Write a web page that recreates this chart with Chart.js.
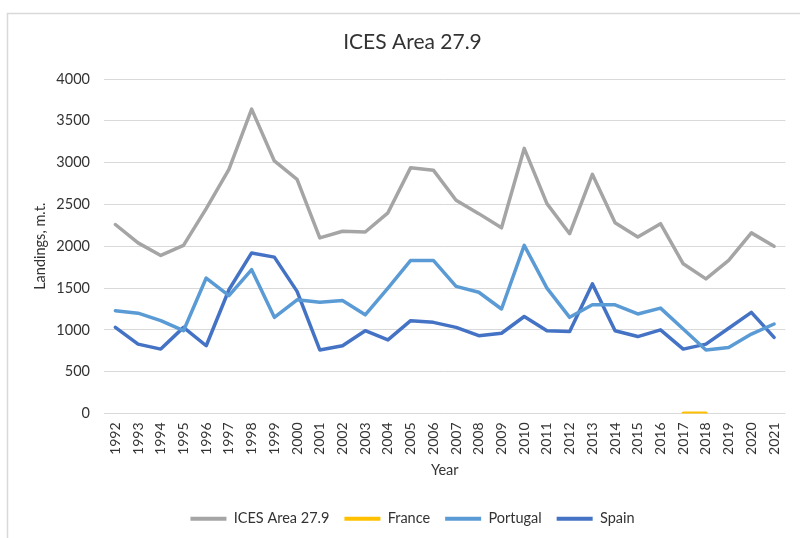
<!DOCTYPE html>
<html lang="en">
<head>
  <meta charset="UTF-8">
  <title>ICES Area 27.9</title>
  <script src="https://cdn.jsdelivr.net/npm/chart.js"></script>
  <style>
    html,body{width:800px;height:538px;margin:0;padding:0;overflow:hidden;background:#fff}
    #wrap{width:800px;height:538px;position:relative}
  </style>
</head>
<body>
  <div id="wrap"><canvas id="chart" width="800" height="538"></canvas></div>
<script>
// ---- data (landings, m.t.) ----
const years = ['1992','1993','1994','1995','1996','1997','1998','1999','2000','2001','2002','2003','2004','2005','2006','2007','2008','2009','2010','2011','2012','2013','2014','2015','2016','2017','2018','2019','2020','2021'];
const icesArea = [2260,2040,1890,2010,2450,2920,3640,3020,2800,2100,2180,2170,2400,2940,2910,2550,2390,2220,3170,2510,2150,2860,2280,2110,2270,1790,1610,1830,2160,2000];
const france = [null,null,null,null,null,null,null,null,null,null,null,null,null,null,null,null,null,null,null,null,null,null,null,null,null,3,3,null,null,null];
const portugal = [1230,1200,1110,990,1620,1410,1720,1150,1360,1330,1350,1180,1500,1830,1830,1520,1450,1250,2010,1500,1150,1300,1300,1190,1260,1010,760,790,950,1070];
const spain = [1030,830,770,1030,810,1480,1920,1870,1460,760,810,990,880,1110,1090,1030,930,960,1160,990,980,1550,990,920,1000,770,830,1020,1210,910];

const seriesNames = ['ICES Area 27.9','France','Portugal','Spain'];
const seriesColors = ['#a5a5a5','#ffc000','#5b9bd5','#4472c4'];
const seriesData = [icesArea, france, portugal, spain];

const FONT = 'Lato, "Open Sans", "DejaVu Sans", sans-serif';
const TXT = '#333333';

// light frame round the chart, like the Excel chart border
const framePlugin = {
  id: 'frame',
  beforeDraw(chart){
    const c = chart.ctx;
    c.save();
    c.fillStyle = '#fff';
    c.fillRect(0,0,chart.width,chart.height);
    c.strokeStyle = '#d9d9d9';
    c.lineWidth = 1.5;
    c.strokeRect(7.5,13.5,chart.width,chart.height);
    c.restore();
  }
};

new Chart(document.getElementById('chart'), {
  type: 'line',
  data: {
    labels: years,
    datasets: seriesData.map((d,i)=>({
      label: seriesNames[i],
      data: d,
      borderColor: seriesColors[i],
      backgroundColor: seriesColors[i],
      borderWidth: 3.5,
      borderJoinStyle: 'round',
      borderCapStyle: 'round',
      pointRadius: 0,
      tension: 0,
      fill: false
    }))
  },
  options: {
    responsive: false,
    animation: false,
    layout: { padding: { top: 14, left: 32, right: 7, bottom: 2 } },
    plugins: {
      title: {
        display: true,
        text: 'ICES Area 27.9',
        color: TXT,
        font: { family: FONT, size: 21, weight: 'normal', lineHeight: 1.2 },
        padding: { top: 16, bottom: 23.8 }
      },
      legend: {
        position: 'bottom',
        labels: {
          color: TXT,
          font: { family: FONT, size: 14.5 },
          boxWidth: 36,
          boxHeight: 4,
          padding: 15,
          generateLabels(chart){
            return Chart.defaults.plugins.legend.labels.generateLabels(chart).map(l=>Object.assign(l,{lineWidth:0}));
          }
        }
      },
      tooltip: { enabled: false }
    },
    scales: {
      x: {
        offset: true,
        grid: { display: false, drawTicks: false },
        border: { display: false },
        ticks: {
          color: TXT,
          font: { family: FONT, size: 14 },
          minRotation: 90, maxRotation: 90,
          autoSkip: false,
          padding: 9
        },
        title: {
          display: true,
          text: 'Year',
          color: TXT,
          font: { family: FONT, size: 14.5, lineHeight: 1.2 },
          padding: { top: 0, bottom: 17.6 }
        },
        afterFit(scale){ scale.height = 83; }
      },
      y: {
        min: 0, max: 4000,
        ticks: {
          stepSize: 500,
          color: TXT,
          font: { family: FONT, size: 14.5 },
          padding: 14,
          callback: v => String(v)
        },
        grid: { color: '#d9d9d9', lineWidth: 1, drawTicks: false },
        border: { display: false },
        title: {
          display: true,
          text: 'Landings, m.t.',
          color: TXT,
          font: { family: FONT, size: 14.5, lineHeight: 1.2 },
          padding: { top: 0, bottom: 0 }
        },
        afterFit(scale){ scale.width = 72; }
      }
    }
  },
  plugins: [framePlugin]
});
</script>
</body>
</html>
